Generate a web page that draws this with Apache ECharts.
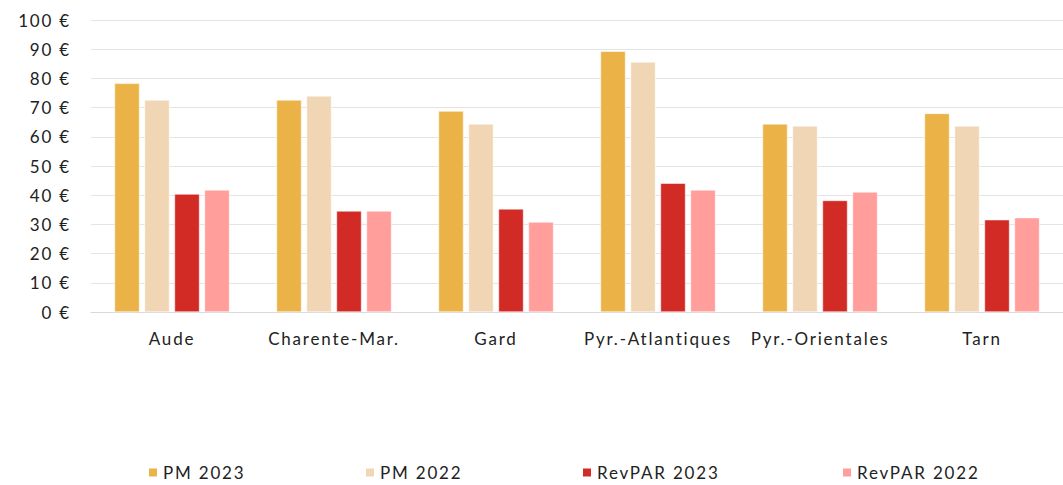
<!doctype html>
<html lang="fr">
<head>
    <meta charset="utf-8">
    <title>PM / RevPAR</title>
    <script src="https://cdn.jsdelivr.net/npm/echarts@6/dist/echarts.min.js"></script>
    <style>
        html, body { margin: 0; padding: 0; background: #fff; }
        #chart { width: 1063px; height: 485px; }
        #chart text { letter-spacing: 1.8px; }
    </style>
</head>
<body>
<div id="chart"></div>
<script>
var categories = ['Aude', 'Charente-Mar.', 'Gard', 'Pyr.-Atlantiques', 'Pyr.-Orientales', 'Tarn'];
var pm2023 = [78.3, 72.6, 68.8, 89.3, 64.4, 68.0];
var pm2022 = [72.6, 74.0, 64.4, 85.6, 63.7, 63.7];
var revpar2023 = [40.4, 34.6, 35.3, 44.1, 38.2, 31.6];
var revpar2022 = [41.8, 34.6, 30.8, 41.8, 41.1, 32.3];

var names = ['PM 2023', 'PM 2022', 'RevPAR 2023', 'RevPAR 2022'];
var colors = ['#EBB347', '#F1D6B5', '#D22B25', '#FF9E9A'];
var legendLeft = [147, 364, 581, 841];
var font = 'Lato, "Noto Sans", sans-serif';

// svg renderer so the css letter-spacing applies to the texts
var myChart = echarts.init(document.getElementById('chart'), null, { renderer: 'svg' });

function bar(i, data) {
    return {
        name: names[i],
        type: 'bar',
        data: data,
        barWidth: 25,
        barGap: '20%',
        itemStyle: { color: colors[i], borderColor: '#ffffff', borderWidth: 0.5 },
        emphasis: { disabled: true }
    };
}

var legends = names.map(function (n, i) {
    return {
        data: [n],
        left: legendLeft[i],
        top: 464,
        padding: 0,
        icon: 'rect',
        itemWidth: 10,
        itemHeight: 10,
        selectedMode: false,
        textStyle: { fontFamily: font, fontSize: 17, color: '#222' }
    };
});

myChart.setOption({
    animation: false,
    legend: legends,
    grid: { left: 91, right: 0, top: 20, bottom: 173, containLabel: false },
    xAxis: {
        type: 'category',
        data: categories,
        axisLine: { lineStyle: { color: '#d9d9d9', width: 1 } },
        axisTick: { show: false },
        axisLabel: { fontFamily: font, fontSize: 17, color: '#222', margin: 18 }
    },
    yAxis: {
        type: 'value',
        min: 0,
        max: 100,
        interval: 10,
        axisLine: { show: false },
        axisTick: { show: false },
        splitLine: { lineStyle: { color: '#e4e4e4', width: 1 } },
        axisLabel: {
            fontFamily: font, fontSize: 17, color: '#222', margin: 20,
            formatter: function (v) { return v + ' €'; }
        }
    },
    series: [bar(0, pm2023), bar(1, pm2022), bar(2, revpar2023), bar(3, revpar2022)]
});
</script>
</body>
</html>
